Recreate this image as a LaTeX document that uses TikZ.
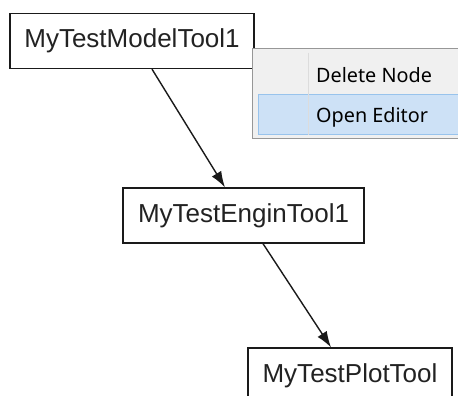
\documentclass[tikz,border=0pt]{standalone}
\usepackage{fontspec}
\setmainfont{Liberation Sans}
\newfontfamily\menufont{Noto Sans}
\usepackage{tikz}
\usetikzlibrary{arrows.meta,positioning}
\definecolor{boxline}{HTML}{1A1A1A}
\definecolor{boxtext}{HTML}{222222}
\definecolor{menubg}{HTML}{F0F0F0}
\definecolor{menuline}{HTML}{979797}
\definecolor{menusep}{HTML}{DCDCDC}
\definecolor{hoverbg}{HTML}{CDE1F6}
\definecolor{hoverline}{HTML}{98C3EC}
\tikzset{
  toolbox/.style={
    rectangle, draw=boxline, fill=white, line width=1.3pt,
    minimum height=55pt, inner sep=0pt,
    font=\fontsize{26}{30}\selectfont, text=boxtext
  },
  flowarrow/.style={
    -{Latex[length=16pt,width=11pt]}, line width=1.4pt, color=boxline
  },
  menupanel/.style={
    rectangle, draw=menuline, fill=menubg, line width=1pt,
    inner sep=0pt, anchor=north west
  },
  menuhover/.style={
    rectangle, draw=hoverline, fill=hoverbg, line width=1pt,
    inner sep=0pt, anchor=north west
  },
  menuitem/.style={
    inner sep=0pt, anchor=base west,
    font=\menufont\fontsize{19.8}{22}\selectfont
  },
}
\begin{document}
\begin{tikzpicture}[x=1pt,y=-1pt]
\useasboundingbox (0,0) rectangle (458,396);
% tool nodes
\node[toolbox, minimum width=244pt] (model) at (132,41) {MyTestModelTool1};
\node[toolbox, minimum width=241pt] (engin) at (243.5,215.5) {MyTestEnginTool1};
\node[toolbox, minimum width=204pt] (plot) at (350,375.5) {MyTestPlotTool};
\draw[flowarrow] ([xshift=20pt]model.south) -- ([xshift=-18.5pt]engin.north);
\draw[flowarrow] ([xshift=19.5pt]engin.south) -- ([xshift=-19pt]plot.north);
% context menu
\node[menupanel, minimum width=212pt, minimum height=90pt] (menu) at (252,48) {};
\node[menuhover, minimum width=206pt, minimum height=40pt] (hover) at (258,94) {};
\draw[menusep, line width=1pt] ([xshift=56pt,yshift=-5pt]menu.north west)
  -- ([xshift=56pt,yshift=4pt]menu.south west);
\node[menuitem] (delete) at (316,82) {Delete Node};
\node[menuitem] (editor) at (316,122) {Open Editor};
\end{tikzpicture}
\end{document}
